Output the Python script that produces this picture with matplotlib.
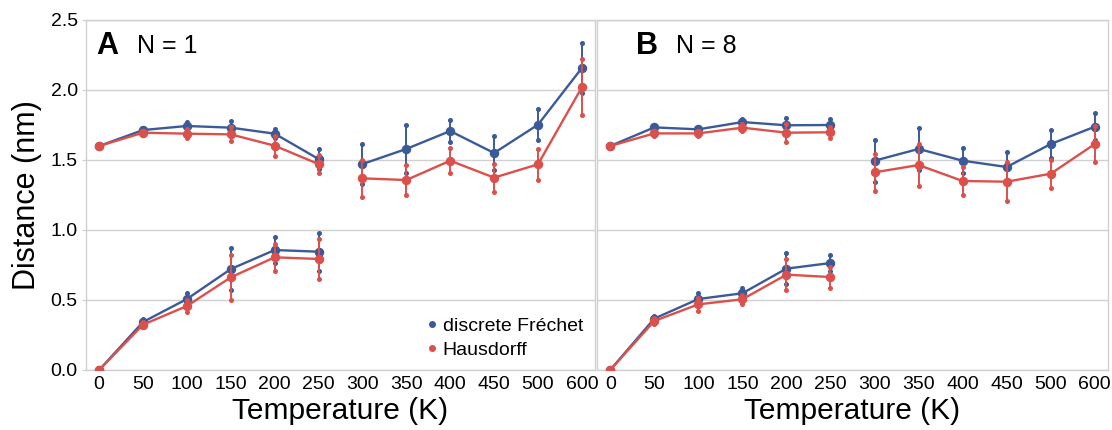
import matplotlib
matplotlib.use("Agg")
import matplotlib.pyplot as plt
from matplotlib.lines import Line2D

plt.rcParams["font.family"] = ["Liberation Sans", "DejaVu Sans"]

# x axis is categorical: evenly spaced temperatures
temps = ["0", "50", "100", "150", "200", "250",
         "300", "350", "400", "450", "500", "600"]
cold_idx = list(range(0, 6))     # 0..250 K
hot_idx = list(range(6, 12))     # 300..600 K

# ---- panel A, N = 1 -------------------------------------------------------
a_fre_low = [0.0, 0.343, 0.507, 0.721, 0.857, 0.845]
a_fre_low_err = [0.0, 0.02, 0.045, 0.15, 0.095, 0.135]
a_hau_low = [0.0, 0.324, 0.457, 0.662, 0.805, 0.793]
a_hau_low_err = [0.0, 0.02, 0.04, 0.16, 0.095, 0.145]

a_fre_up = [1.6, 1.714, 1.743, 1.731, 1.688, 1.507]
a_fre_up_err = [0.0, 0.015, 0.03, 0.05, 0.03, 0.07]
a_hau_up = [1.6, 1.695, 1.688, 1.683, 1.602, 1.471]
a_hau_up_err = [0.0, 0.015, 0.03, 0.05, 0.07, 0.066]

a_fre_hot = [1.471, 1.579, 1.707, 1.55, 1.752, 2.157]
a_fre_hot_err = [0.14, 0.17, 0.08, 0.12, 0.11, 0.18]
a_hau_hot = [1.369, 1.357, 1.495, 1.374, 1.469, 2.019]
a_hau_hot_err = [0.13, 0.11, 0.09, 0.10, 0.11, 0.20]

# ---- panel B, N = 8 -------------------------------------------------------
b_fre_low = [0.0, 0.367, 0.507, 0.548, 0.724, 0.764]
b_fre_low_err = [0.0, 0.02, 0.04, 0.04, 0.11, 0.06]
b_hau_low = [0.0, 0.35, 0.469, 0.505, 0.681, 0.664]
b_hau_low_err = [0.0, 0.02, 0.045, 0.03, 0.11, 0.075]

b_fre_up = [1.6, 1.733, 1.719, 1.771, 1.748, 1.75]
b_fre_up_err = [0.0, 0.015, 0.02, 0.02, 0.05, 0.04]
b_hau_up = [1.6, 1.69, 1.69, 1.731, 1.695, 1.698]
b_hau_up_err = [0.0, 0.015, 0.02, 0.025, 0.065, 0.04]

b_fre_hot = [1.495, 1.579, 1.495, 1.45, 1.614, 1.738]
b_fre_hot_err = [0.15, 0.15, 0.09, 0.11, 0.10, 0.095]
b_hau_hot = [1.412, 1.464, 1.35, 1.345, 1.402, 1.614]
b_hau_hot_err = [0.13, 0.15, 0.10, 0.14, 0.10, 0.13]

BLUE = "#3b5b98"
RED = "#dc504c"
GRID = "#d0d0d0"


def draw_segment(ax, xs, ys, errs, color, z):
    ax.errorbar(xs, ys, yerr=errs, color=color, lw=1.7, marker="o", ms=5.8,
                elinewidth=1.4, capsize=0, zorder=z)
    # error bar ends are drawn as small dots
    for x, y, e in zip(xs, ys, errs):
        if e > 0:
            ax.plot([x, x], [y - e, y + e], ls="none", marker="o", ms=2.6,
                    color=color, zorder=z)


def panel(ax, data, letter, label, lx, nx):
    for (fre, fre_err, hau, hau_err), idx in data:
        draw_segment(ax, idx, fre, fre_err, BLUE, 3)
        draw_segment(ax, idx, hau, hau_err, RED, 4)
    ax.set_xlim(-0.3, 11.3)
    ax.set_ylim(0, 2.5)
    ax.set_xticks(range(len(temps)), labels=temps, fontsize=14)
    ax.set_yticks([0, 0.5, 1.0, 1.5, 2.0, 2.5])
    ax.yaxis.grid(True, color=GRID, lw=1.0)
    ax.set_axisbelow(True)
    for s in ax.spines.values():
        s.set_color(GRID)
        s.set_linewidth(1.0)
    ax.tick_params(axis="x", length=0, pad=4)
    ax.tick_params(axis="y", length=3, color=GRID, labelsize=14, pad=3)
    ax.set_xlabel("Temperature (K)", fontsize=21.5, labelpad=3)
    ax.text(lx, 0.925, letter, transform=ax.transAxes, fontsize=22,
            fontweight="bold", va="center", ha="left")
    ax.text(nx, 0.925, label, transform=ax.transAxes, fontsize=18,
            va="center", ha="left")


fig = plt.figure(figsize=(11.12, 4.3), dpi=100)
ax_a = fig.add_axes([86 / 1112, 60 / 430, 509 / 1112, 350 / 430])
ax_b = fig.add_axes([597 / 1112, 60 / 430, 511 / 1112, 350 / 430])

panel(ax_a, [
    ((a_fre_low, a_fre_low_err, a_hau_low, a_hau_low_err), cold_idx),
    ((a_fre_up, a_fre_up_err, a_hau_up, a_hau_up_err), cold_idx),
    ((a_fre_hot, a_fre_hot_err, a_hau_hot, a_hau_hot_err), hot_idx),
], "A", "N = 1", 0.021, 0.1)
panel(ax_b, [
    ((b_fre_low, b_fre_low_err, b_hau_low, b_hau_low_err), cold_idx),
    ((b_fre_up, b_fre_up_err, b_hau_up, b_hau_up_err), cold_idx),
    ((b_fre_hot, b_fre_hot_err, b_hau_hot, b_hau_hot_err), hot_idx),
], "B", "N = 8", 0.076, 0.155)
ax_b.set_yticklabels([])
ax_b.tick_params(axis="y", length=0)

ax_a.set_ylabel("Distance (nm)", fontsize=22, labelpad=6)

handles = [Line2D([], [], ls="none", marker="o", ms=4, color=BLUE),
           Line2D([], [], ls="none", marker="o", ms=4, color=RED)]
ax_a.legend(handles, ["discrete Fréchet", "Hausdorff"], loc="upper left",
            bbox_to_anchor=(0.668, 0.15), frameon=False, fontsize=14,
            handlelength=0.6, handletextpad=0.25, labelspacing=0.3,
            borderaxespad=0, borderpad=0)

fig.savefig("out.png", dpi=100)
